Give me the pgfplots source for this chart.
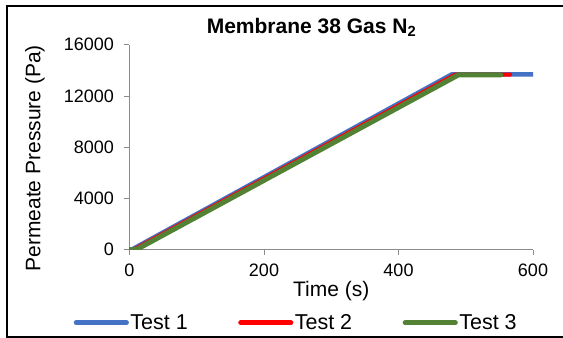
\documentclass[border=0pt]{standalone}
\usepackage{fontspec}
\setmainfont{Liberation Sans}
\usepackage{pgfplots}
\pgfplotsset{compat=1.18}
\definecolor{cA}{HTML}{4472C4}
\definecolor{cB}{HTML}{FF0000}
\definecolor{cC}{HTML}{548235}
\definecolor{axgray}{HTML}{8C8C8C}
\begin{document}
\begin{tikzpicture}
\begin{axis}[
  scale only axis, width=403.5bp, height=205bp,
  xmin=0, xmax=600, ymin=0, ymax=16000,
  xtick={0,200,400,600}, ytick={0,4000,8000,12000,16000},
  axis x line*=bottom, axis y line*=left,
  axis line style={draw=axgray, line width=0.8bp},
  tick style={draw=axgray, line width=0.8bp},
  tick align=outside, major tick length=5bp,
  scaled y ticks=false, scaled x ticks=false,
  /pgf/number format/.cd, fixed, 1000 sep={}, assume math mode=true, /pgfplots/.cd,
  tick label style={font=\fontsize{18bp}{21bp}\selectfont},
  x tick label style={yshift=-6bp},
  y tick label style={xshift=-7bp},
  title={\textbf{Membrane 38 Gas N\textsubscript{2}}},
  title style={font=\fontsize{21bp}{25bp}\selectfont, at={(axis description cs:0.451,1)}, anchor=base, yshift=5.4bp},
  xlabel={Time (s)},
  xlabel style={font=\fontsize{21bp}{25bp}\selectfont, at={(axis description cs:0.5,0)}, anchor=center, yshift=-41.5bp},
  ylabel={Permeate Pressure (Pa)},
  ylabel style={font=\fontsize{21bp}{25bp}\selectfont, at={(axis description cs:-0.2342,0.446)}, anchor=center},
  legend columns=3,
  legend style={draw=none, fill=none, at={(axis description cs:0.4126,0)}, anchor=center, yshift=-73bp,
    font=\fontsize{21.5bp}{25bp}\selectfont,
    /tikz/every odd column/.append style={column sep=0bp},
    /tikz/every even column/.append style={column sep=49bp},
    nodes={inner sep=1.5bp}},
  legend image code/.code={\draw[#1, line cap=round, line width=4.7bp] (2.3bp,0bp) -- (52.7bp,0bp);},
]
\addplot[cA, line width=4.5bp, line cap=round, line join=round] coordinates {(0,0) (3,0) (479,13680) (600,13680)};
\addlegendentry{Test 1}
\addplot[cB, line width=4bp, line cap=round, line join=round] coordinates {(0,0) (6,0) (484,13660) (566,13660)};
\addlegendentry{Test 2}
\addplot[cC, line width=5bp, line cap=round, line join=round] coordinates {(0,0) (10,0) (489,13640) (552,13640)};
\addlegendentry{Test 3}
\end{axis}
\draw[line width=1.5bp] (-122.3bp,-87.3bp) rectangle (440bp,243.7bp);
\pgfresetboundingbox
\path[use as bounding box] (-129.5bp,-88.3bp) rectangle (433.5bp,249.7bp);
\end{tikzpicture}
\end{document}
